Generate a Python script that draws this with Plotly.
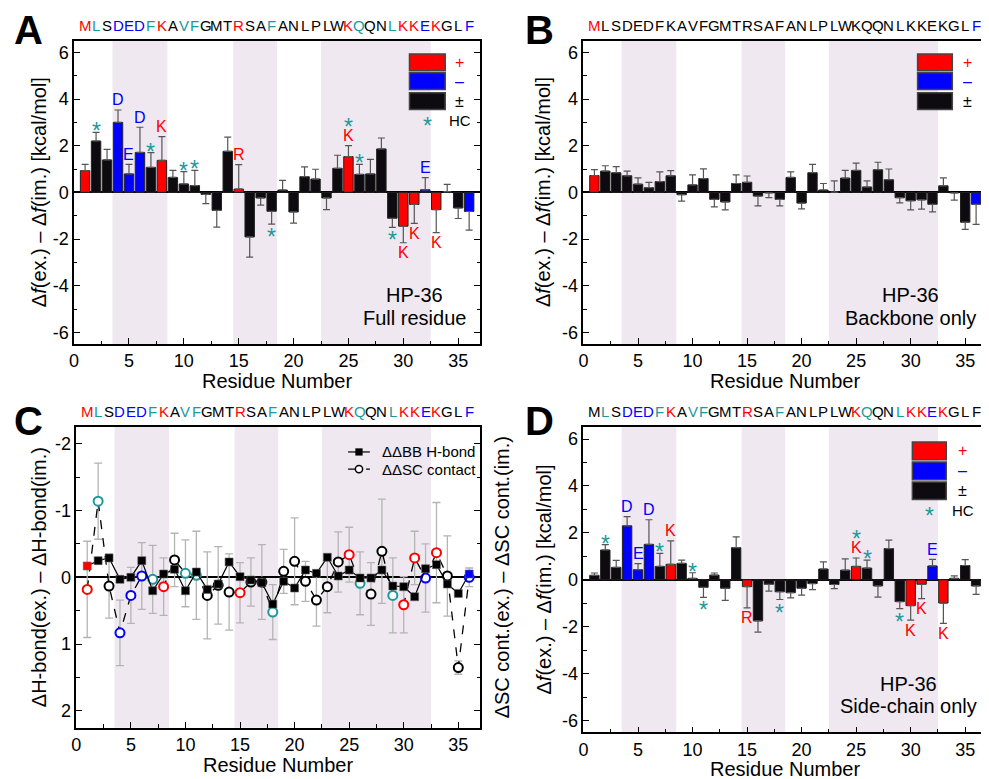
import plotly.graph_objects as go

# ---------------- data ----------------
residues = list(range(1, 37))
sequence = list("MLSDEDFKAVFGMTRSAFANLPLWKQQNLKKEKGLF")

# charge class per residue ('+', '-', 'o') for each panel
charge_full = list("+oo---o+oooooo+ooooooooo+oooo++-+oo-")
charge_bb = list("+" + "o" * 34 + "-")
charge_sc = list("o" + "oo---o+oooooo+ooooooooo+oooo++-+oo" + "o")
hc_residues = [2, 7, 10, 11, 18, 25, 26, 29]

full_val = [0.93, 2.20, 1.39, 3.00, 0.79, 1.71, 1.07, 1.37, 0.64, 0.36, 0.29, -0.09,
            -0.77, 1.76, 0.14, -1.91, -0.24, -0.81, 0.10, -0.84, 0.67, 0.57, -0.24, 1.03,
            1.53, 0.77, 0.79, 1.86, -1.11, -1.45, -0.52, 0.11, -0.74, 0.03, -0.67, -0.82]
full_err = [0.27, 0.37, 0.45, 0.53, 0.41, 1.08, 0.63, 1.02, 0.30, 0.53, 0.65, 0.39,
            0.72, 0.61, 1.05, 0.87, 0.31, 0.55, 0.41, 0.48, 0.42, 0.42, 0.50, 0.56,
            0.47, 0.43, 0.62, 0.47, 0.39, 0.71, 0.81, 0.52, 0.99, 0.31, 0.45, 0.80]

bb_val = [0.72, 0.91, 0.84, 0.71, 0.35, 0.20, 0.46, 0.71, -0.10, 0.32, 0.59, -0.30,
          -0.41, 0.38, 0.43, -0.16, -0.02, -0.30, 0.64, -0.46, 0.84, 0.10, 0.01, 0.61,
          0.94, 0.23, 0.97, 0.54, -0.23, -0.36, -0.32, -0.51, 0.28, -0.02, -1.28, -0.51]
bb_err = [0.25, 0.23, 0.26, 0.20, 0.27, 0.23, 0.42, 0.22, 0.28, 0.43, 0.42, 0.32,
          0.34, 0.37, 0.27, 0.42, 0.21, 0.28, 0.24, 0.25, 0.36, 0.28, 0.48, 0.33,
          0.31, 0.26, 0.32, 0.46, 0.22, 0.39, 0.40, 0.33, 0.34, 0.31, 0.31, 0.86]

sc_val = [0.19, 1.27, 0.53, 2.30, 0.43, 1.51, 0.57, 0.66, 0.70, 0.06, -0.32, 0.20,
          -0.36, 1.37, -0.29, -1.75, -0.19, -0.51, -0.55, -0.36, -0.16, 0.46, -0.20, 0.41,
          0.57, 0.50, -0.26, 1.33, -0.93, -1.10, -0.19, 0.59, -0.99, 0.06, 0.61, -0.26]
sc_err = [0.10, 0.23, 0.30, 0.39, 0.26, 1.05, 0.56, 1.00, 0.14, 0.24, 0.43, 0.09,
          0.52, 0.46, 0.91, 0.48, 0.29, 0.33, 0.22, 0.29, 0.26, 0.30, 0.18, 0.48,
          0.36, 0.34, 0.48, 0.36, 0.30, 0.62, 0.61, 0.28, 0.87, 0.11, 0.25, 0.36]

hb_bb = [-0.17, -0.25, -0.29, 0.03, 0.00, -0.25, 0.20, -0.05, -0.12, 0.20, -0.08, 0.18,
         0.10, -0.23, -0.01, 0.04, 0.08, 0.40, 0.06, 0.16, -0.11, -0.06, -0.30, -0.02,
         -0.11, 0.01, 0.01, -0.11, 0.13, 0.14, 0.29, -0.13, -0.19, 0.10, 0.24, -0.05]
hb_sc = [0.18, -1.14, 0.13, 0.83, 0.27, -0.02, 0.03, 0.14, -0.26, -0.06, -0.03, 0.27,
         0.12, 0.22, 0.23, 0.07, 0.07, 0.52, -0.09, -0.24, 0.06, 0.34, 0.14, -0.23,
         -0.34, 0.09, 0.25, -0.39, 0.27, 0.41, -0.29, 0.01, -0.37, -0.02, 1.35, 0.00]
hb_sc_err = [0.72, 0.57, 0.48, 0.49, 0.42, 0.50, 0.51, 0.43, 0.40, 0.50, 0.66, 0.65,
             0.58, 0.57, 0.45, 0.36, 0.56, 0.41, 0.33, 0.65, 0.30, 0.39, 0.39, 0.45,
             0.41, 0.47, 0.47, 0.78, 0.56, 0.42, 0.40, 0.51, 0.75, 0.60, 0.10, 0.14]

x_ticks = [0, 5, 10, 15, 20, 25, 30, 35]
y_ticks = [-6, -4, -2, 0, 2, 4, 6]
y_ticks_c = [-2, -1, 0, 1, 2]
helix_regions = [(3.5, 8.5), (14.5, 18.5), (22.5, 32.5)]

# ---------------- styles ----------------
FONT = "Liberation Sans, Arial, sans-serif"
RED, BLUE, TEAL, BLACK = "#FF0000", "#0000FF", "#1A9A9A", "#000000"
BARBLACK = "#0E0B10"
SHADE = "#EFE8F0"
PAGE_W, PAGE_H = 989, 779
OFF = 8  # default body margin of the html page
W, H = PAGE_W - OFF, PAGE_H - OFF


def px(xp):
    return (xp - OFF) / W


def py(yp):
    return 1 - (yp - OFF) / H


def cls_color(ch, r, use_hc=True):
    if ch == "+":
        return RED
    if ch == "-":
        return BLUE
    if use_hc and r in hc_residues:
        return TEAL
    return BLACK


def bar_color(ch):
    return RED if ch == "+" else (BLUE if ch == "-" else BARBLACK)


# panel geometry in page pixels: left, right, top, bottom
geo = {
    "A": (69.5, 478.0, 40.7, 344.0),
    "B": (582.0, 988.0, 40.7, 344.0),
    "C": (71.7, 478.0, 427.0, 727.7),
    "D": (582.0, 988.0, 427.3, 732.3),
}
axn = {"A": ("x", "y"), "B": ("x2", "y2"), "C": ("x3", "y3"), "D": ("x4", "y4")}


def dom(p):
    l, r, t, b = geo[p]
    return [px(l), px(r)], [py(b), py(t)]


fig = go.Figure()
annotations = []
shapes = []

bar_panels = [("A", full_val, full_err, charge_full),
              ("B", bb_val, bb_err, charge_bb),
              ("D", sc_val, sc_err, charge_sc)]

for p, vals, errs, charge in bar_panels:
    xa, ya = axn[p]
    fig.add_trace(go.Bar(
        x=residues, y=vals, xaxis=xa, yaxis=ya, width=0.86,
        marker=dict(color=[bar_color(c) for c in charge],
                    line=dict(color="#222222", width=1)),
        error_y=dict(type="data", symmetric=False,
                     array=[e if v >= 0 else 0 for v, e in zip(vals, errs)],
                     arrayminus=[e if v < 0 else 0 for v, e in zip(vals, errs)],
                     color="#555555", thickness=1.2, width=3.5),
        showlegend=False, hoverinfo="skip"))

# labels over bars (panels A and D)
for p, vals, errs in [("A", full_val, full_err), ("D", sc_val, sc_err)]:
    xa, ya = axn[p]
    for i, r in enumerate(residues):
        v, e = vals[i], errs[i]
        sg = 1 if v >= 0 else -1
        edge = v + e if v >= 0 else v - e
        has_letter = charge_sc[i] != "o"
        has_star = r in hc_residues
        if has_letter:
            annotations.append(dict(
                x=r, y=edge, xref=xa, yref=ya, text=sequence[i], showarrow=False,
                yanchor="middle", yshift=sg * 10,
                font=dict(family=FONT, size=16, color=cls_color(charge_sc[i], r))))
        if has_star:
            off = 25 if has_letter else 7
            annotations.append(dict(
                x=r, y=edge, xref=xa, yref=ya, text="*", showarrow=False,
                yanchor="middle", yshift=sg * off - 6,
                font=dict(family=FONT, size=23, color=TEAL)))

# panel C
xa, ya = axn["C"]
fig.add_trace(go.Scatter(
    x=residues, y=hb_sc, xaxis=xa, yaxis=ya, mode="lines+markers",
    line=dict(color="black", width=1.3, dash="dash"),
    marker=dict(symbol="circle", size=9, color="white",
                line=dict(color=[cls_color(c, r) for c, r in zip(charge_full, residues)], width=2)),
    error_y=dict(type="data", array=hb_sc_err, color="#B4B4B4", thickness=1.3, width=4),
    showlegend=False, hoverinfo="skip"))
fig.add_trace(go.Scatter(
    x=residues, y=hb_bb, xaxis=xa, yaxis=ya, mode="lines+markers",
    line=dict(color="black", width=1.2),
    marker=dict(symbol="square", size=8,
                color=[cls_color(c, r, False) for c, r in zip(charge_bb, residues)],
                line=dict(color="#666666", width=0.6)),
    showlegend=False, hoverinfo="skip"))

# sequence rows
seq_rows = {"A": (charge_full, True), "B": (charge_bb, False),
            "C": (charge_full, True), "D": (charge_sc, True)}
for p, (charge, use_hc) in seq_rows.items():
    xa, ya = axn[p]
    t = geo[p][2]
    for i, r in enumerate(residues):
        annotations.append(dict(
            x=r, y=py(t - 15.5), xref=xa, yref="paper", text=sequence[i],
            showarrow=False, yanchor="middle",
            font=dict(family=FONT, size=15, color=cls_color(charge[i], r, use_hc))))

# shading & layout axes
layout_axes = {}
for p in "ABCD":
    xa, ya = axn[p]
    xd, yd = dom(p)
    xkey = "xaxis" if xa == "x" else "xaxis" + xa[1:]
    ykey = "yaxis" if ya == "y" else "yaxis" + ya[1:]
    layout_axes[xkey] = dict(
        domain=xd, anchor=ya, range=[0, 37], tickmode="array", tickvals=x_ticks,
        ticks="inside", ticklen=6, tickwidth=1.3, tickcolor="black",
        minor=dict(tick0=0, dtick=2.5, ticks="inside", ticklen=3.5, tickwidth=1.3, tickcolor="black"),
        showline=True, linecolor="black", linewidth=1.6, mirror=True,
        showgrid=False, zeroline=False,
        tickfont=dict(family=FONT, size=18, color="black"))
    if p == "C":
        yr, yt, md = [2.25, -2.25], y_ticks_c, 0.5
    else:
        yr, yt, md = [-6.5, 6.5], y_ticks, 1
    layout_axes[ykey] = dict(
        domain=yd, anchor=xa, range=yr, tickmode="array", tickvals=yt,
        ticktext=[str(v) for v in yt],
        ticks="inside", ticklen=6, tickwidth=1.3, tickcolor="black",
        minor=dict(tick0=0, dtick=md, ticks="inside", ticklen=3.5, tickwidth=1.3, tickcolor="black"),
        showline=True, linecolor="black", linewidth=1.6, mirror="allticks",
        showgrid=False, zeroline=True, zerolinecolor="black", zerolinewidth=1.5,
        tickfont=dict(family=FONT, size=18, color="black"))
    for x0, x1 in helix_regions:
        shapes.append(dict(type="rect", xref=xa, yref=ya + " domain", x0=x0, x1=x1,
                           y0=0, y1=1, fillcolor=SHADE, line=dict(width=0), layer="below"))
    l, r_, t, b = geo[p]
    # panel letter
    annotations.append(dict(x=px(24 if p in "AC" else 538), y=py(30 if p in "AB" else 421),
                            xref="paper", yref="paper", text="<b>%s</b>" % p, showarrow=False,
                            xanchor="center", yanchor="middle",
                            font=dict(family=FONT, size=40, color="black")))
    # x title
    annotations.append(dict(x=px((l + r_) / 2), y=py(b + 37), xref="paper", yref="paper",
                            text="Residue Number", showarrow=False, xanchor="center",
                            yanchor="middle", font=dict(family=FONT, size=20, color="black")))

# y titles
ytitle_f = "Δ<i>f</i>(ex.) – Δ<i>f</i>(im.) [kcal/mol]"
for p, xpix, txt in [("A", 35, ytitle_f), ("B", 542, ytitle_f), ("D", 542, ytitle_f),
                     ("C", 35, "ΔH-bond(ex.) – ΔH-bond(im.)"),
                     ("C", 500, "ΔSC cont.(ex.) – ΔSC cont.(im.)")]:
    l, r_, t, b = geo[p]
    annotations.append(dict(x=px(xpix), y=py((t + b) / 2), xref="paper", yref="paper",
                            text=txt, showarrow=False, textangle=-90,
                            xanchor="center", yanchor="middle",
                            font=dict(family=FONT, size=20, color="black")))

# HP-36 labels
for p, xc, line2 in [("A", 0.838, "Full residue"), ("B", 0.81, "Backbone only"),
                     ("D", 0.806, "Side-chain only")]:
    xa, ya = axn[p]
    annotations.append(dict(x=xc, y=0.160, xref=xa + " domain", yref=ya + " domain",
                            text="HP-36", showarrow=False, xanchor="center", yanchor="middle",
                            font=dict(family=FONT, size=20, color="black")))
    annotations.append(dict(x=xc, y=0.087, xref=xa + " domain", yref=ya + " domain",
                            text=line2, showarrow=False, xanchor="center", yanchor="middle",
                            font=dict(family=FONT, size=20, color="black")))

# bar-panel legends
leg = {"A": (0.826, 0.914, [0.956, 0.894, 0.828], 0.055, 0.934, True),
       "B": (0.828, 0.914, [0.956, 0.894, 0.828], 0.055, 0.936, False),
       "D": (0.815, 0.899, [0.952, 0.886, 0.821], 0.058, 0.924, True)}
for p, (x0, x1, tops, hgt, xs, hc) in leg.items():
    xa, ya = axn[p]
    for top, col, sym, scol in zip(tops, [RED, BLUE, BARBLACK], ["+", "–", "±"], [RED, BLUE, BLACK]):
        shapes.append(dict(type="rect", xref=xa + " domain", yref=ya + " domain",
                           x0=x0, x1=x1, y0=top - hgt, y1=top, fillcolor=col,
                           line=dict(color="#444444", width=1.5)))
        annotations.append(dict(x=xs, y=top - hgt / 2, xref=xa + " domain", yref=ya + " domain",
                                text=sym, showarrow=False, xanchor="left", yanchor="middle",
                                font=dict(family=FONT, size=16, color=scol)))
    if hc:
        ystar = tops[2] - hgt - 0.035
        annotations.append(dict(x=(x0 + x1) / 2, y=ystar, xref=xa + " domain", yref=ya + " domain",
                                text="*", showarrow=False, xanchor="center", yanchor="middle", yshift=-6,
                                font=dict(family=FONT, size=23, color=TEAL)))
        annotations.append(dict(x=xs - 0.015, y=ystar, xref=xa + " domain", yref=ya + " domain",
                                text="HC", showarrow=False, xanchor="left", yanchor="middle",
                                font=dict(family=FONT, size=15, color="black")))

# panel C legend
xa, ya = axn["C"]
for yy, dash, lab in [(0.917, "solid", "ΔΔBB H-bond"), (0.860, "dash", "ΔΔSC contact")]:
    shapes.append(dict(type="line", xref=xa + " domain", yref=ya + " domain",
                       x0=0.673, x1=0.727, y0=yy, y1=yy, line=dict(color="black", width=1.2, dash=dash)))
    annotations.append(dict(x=0.751, y=yy, xref=xa + " domain", yref=ya + " domain",
                            text=lab, showarrow=False, xanchor="left", yanchor="middle",
                            font=dict(family=FONT, size=15, color="black")))
shapes.append(dict(type="rect", xref=xa + " domain", yref=ya + " domain",
                   x0=0.7 - 0.009, x1=0.7 + 0.009, y0=0.917 - 0.012, y1=0.917 + 0.012,
                   fillcolor="black", line=dict(width=0)))
shapes.append(dict(type="circle", xref=xa + " domain", yref=ya + " domain",
                   x0=0.7 - 0.009, x1=0.7 + 0.009, y0=0.860 - 0.012, y1=0.860 + 0.012,
                   fillcolor="white", line=dict(color="black", width=1.5)))

fig.update_layout(
    width=W, height=H, margin=dict(l=0, r=0, t=0, b=0),
    paper_bgcolor="white", plot_bgcolor="white",
    showlegend=False, bargap=0.1,
    annotations=annotations, shapes=shapes,
    font=dict(family=FONT, color="black"),
    **layout_axes)

fig.write_html("out.html")
